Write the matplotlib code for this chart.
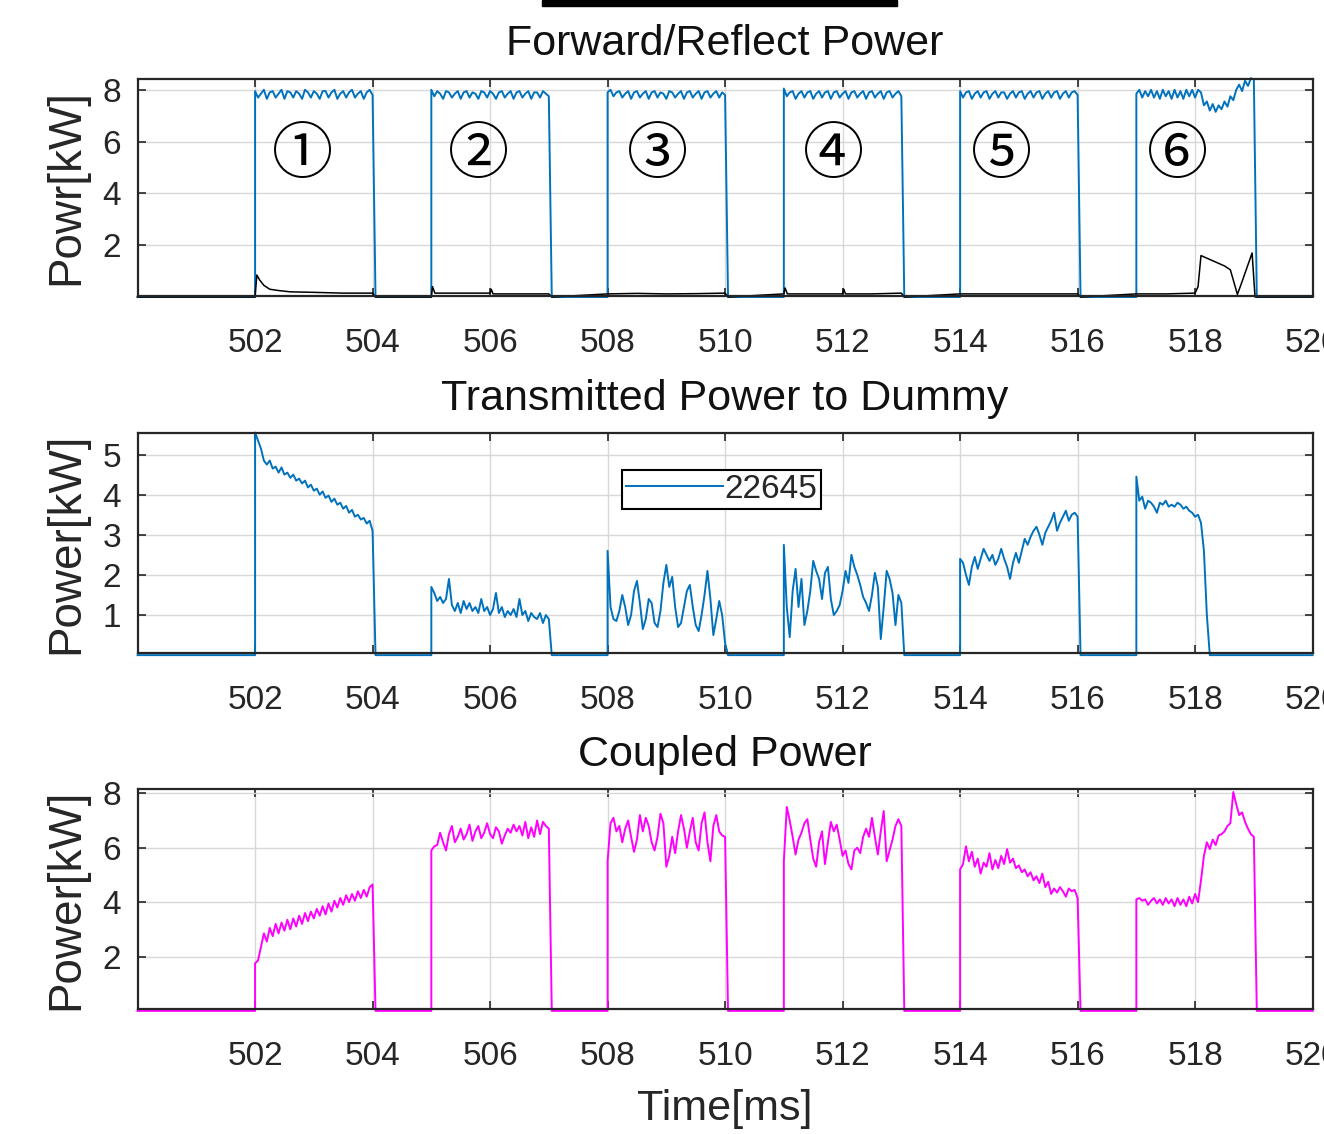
import numpy as np
import matplotlib
matplotlib.use("Agg")
import matplotlib.pyplot as plt
from matplotlib.patches import Rectangle

plt.rcParams['font.family'] = ['Liberation Sans', 'DejaVu Sans']

# pulse timing [ms], samples every 0.05 ms inside each pulse
pulse_starts = [502.0, 505.0, 508.0, 511.0, 514.0, 517.0]
step_ms = 0.05

# forward power [kW]
fwd_p1 = [7.95, 7.70, 7.85, 8.00, 7.65, 7.90, 7.95, 7.70, 7.85, 8.00, 7.65, 7.95, 7.90, 7.70, 7.95,
          7.85, 7.65, 8.00, 7.90, 7.70, 7.95, 7.85, 7.65, 7.95, 7.95, 7.70, 7.90, 8.00, 7.65, 7.85,
          7.95, 7.70, 7.90, 8.00, 7.70, 7.85, 7.95, 7.65, 7.90, 8.00, 7.80]
fwd_p2 = [8.00, 7.75, 7.95, 7.85, 7.65, 7.95, 7.90, 7.70, 7.85, 7.95, 7.65, 7.90, 7.95, 7.70, 7.90,
          7.85, 7.65, 7.95, 7.90, 7.70, 7.95, 7.85, 7.65, 7.90, 7.95, 7.70, 7.85, 7.95, 7.65, 7.90,
          7.95, 7.70, 7.85, 7.95, 7.65, 7.90, 7.90, 7.70, 7.95, 7.85, 7.75]
fwd_p3 = [7.90, 8.00, 7.75, 7.90, 7.95, 7.70, 7.85, 7.95, 7.65, 7.90, 7.95, 7.70, 7.85, 7.95, 7.65,
          7.90, 7.95, 7.70, 7.90, 7.85, 7.65, 7.95, 7.90, 7.70, 7.85, 7.95, 7.65, 7.90, 7.95, 7.70,
          7.85, 7.95, 7.65, 7.90, 7.95, 7.70, 7.85, 7.95, 7.70, 7.90, 7.80]
fwd_p4 = [8.05, 7.75, 7.90, 7.95, 7.65, 7.85, 7.95, 7.70, 7.90, 7.95, 7.65, 7.85, 7.95, 7.70, 7.90,
          7.95, 7.65, 7.90, 7.95, 7.70, 7.85, 7.95, 7.65, 7.90, 7.95, 7.70, 7.85, 7.95, 7.65, 7.90,
          7.95, 7.70, 7.85, 7.95, 7.65, 7.90, 7.95, 7.70, 7.85, 7.95, 7.75]
fwd_p5 = [7.95, 7.70, 7.90, 7.95, 7.65, 7.85, 7.95, 7.70, 7.90, 7.95, 7.65, 7.85, 7.95, 7.70, 7.90,
          7.90, 7.65, 7.85, 7.95, 7.70, 7.90, 7.95, 7.65, 7.85, 7.95, 7.70, 7.90, 7.95, 7.65, 7.85,
          7.95, 7.70, 7.90, 7.95, 7.65, 7.85, 7.95, 7.70, 7.90, 7.95, 7.80]
fwd_p6 = [7.85, 8.00, 7.70, 7.95, 7.75, 8.00, 7.70, 7.95, 7.65, 8.00, 7.75, 7.95, 7.65, 8.00, 7.70,
          7.95, 7.65, 8.00, 7.75, 8.00, 7.70, 8.00, 7.90, 7.40, 7.55, 7.20, 7.45, 7.15, 7.40, 7.25,
          7.55, 7.35, 7.75, 7.60, 8.00, 8.20, 7.95, 8.35, 8.15, 8.45, 8.40]

# reflected power [kW]
refl_t = [500.0, 502.0, 502.03, 502.08, 502.15, 502.25, 502.4, 502.6, 503.0, 503.5, 504.0, 504.05,
          505.0, 505.02, 505.06, 505.5, 506.0, 506.02, 506.05, 506.5, 507.0, 507.05,
          508.0, 508.5, 509.0, 509.5, 510.0, 510.05,
          511.0, 511.02, 511.06, 511.5, 512.0, 512.02, 512.05, 512.5, 513.0, 513.05,
          514.0, 514.5, 515.0, 515.5, 516.0, 516.05,
          517.0, 517.5, 518.0, 518.05, 518.1, 518.3, 518.5, 518.6, 518.72, 518.8, 518.97, 519.02, 520.0]
refl_kw = [0.0, 0.0, 0.85, 0.65, 0.45, 0.30, 0.25, 0.20, 0.18, 0.15, 0.15, 0.0,
           0.0, 0.40, 0.15, 0.15, 0.15, 0.30, 0.12, 0.12, 0.12, 0.0,
           0.12, 0.14, 0.12, 0.13, 0.15, 0.0,
           0.12, 0.35, 0.12, 0.12, 0.12, 0.30, 0.12, 0.12, 0.15, 0.0,
           0.12, 0.12, 0.12, 0.12, 0.12, 0.0,
           0.12, 0.12, 0.15, 0.40, 1.60, 1.40, 1.20, 1.05, 0.10, 0.60, 1.70, 0.0, 0.0]

# power transmitted to dummy load [kW]
dummy_p1 = [5.55, 5.35, 5.15, 4.85, 4.75, 4.85, 4.65, 4.70, 4.55, 4.68, 4.50, 4.55, 4.42, 4.50, 4.35,
            4.40, 4.28, 4.35, 4.18, 4.25, 4.10, 4.15, 4.00, 4.08, 3.92, 3.98, 3.82, 3.90, 3.75, 3.80,
            3.65, 3.72, 3.55, 3.62, 3.45, 3.50, 3.38, 3.42, 3.28, 3.35, 3.10]
dummy_p2 = [1.70, 1.55, 1.35, 1.45, 1.30, 1.40, 1.90, 1.25, 1.10, 1.30, 1.05, 1.35, 1.15, 1.30, 1.10,
            1.20, 1.05, 1.40, 1.10, 1.20, 1.00, 1.15, 1.55, 1.05, 1.20, 0.95, 1.10, 1.00, 1.15, 0.95,
            1.40, 1.00, 1.10, 0.85, 1.05, 0.95, 0.90, 1.05, 0.80, 1.00, 0.90]
dummy_p3 = [2.60, 1.20, 0.90, 0.85, 1.10, 1.50, 1.20, 0.75, 1.00, 1.60, 1.85, 1.30, 0.65, 0.90, 1.40,
            1.30, 0.80, 0.70, 1.10, 1.80, 2.25, 1.70, 1.95, 1.20, 0.70, 0.80, 1.20, 1.60, 1.75, 1.20,
            0.75, 0.60, 1.00, 1.50, 2.10, 1.40, 0.50, 0.90, 1.35, 1.00, 0.30]
dummy_p4 = [2.75, 1.20, 0.45, 1.60, 2.15, 1.20, 1.90, 0.75, 1.10, 1.60, 2.35, 2.10, 1.90, 1.40, 2.05,
            2.20, 1.40, 1.00, 1.10, 1.25, 1.60, 2.10, 1.80, 2.50, 2.20, 2.00, 1.75, 1.45, 1.30, 1.10,
            1.50, 2.05, 1.70, 0.40, 1.20, 2.10, 1.90, 1.55, 0.75, 1.50, 1.30]
dummy_p5 = [2.40, 2.30, 2.00, 1.75, 2.20, 2.45, 2.15, 2.40, 2.65, 2.50, 2.35, 2.50, 2.25, 2.40, 2.65,
            2.40, 2.20, 1.90, 2.30, 2.55, 2.30, 2.60, 2.90, 2.75, 2.95, 3.10, 3.20, 3.00, 2.75, 3.05,
            3.20, 3.35, 3.55, 3.10, 3.30, 3.45, 3.60, 3.35, 3.50, 3.55, 3.45]
dummy_p6 = [4.45, 3.85, 3.95, 3.65, 3.85, 3.80, 3.70, 3.55, 3.80, 3.75, 3.85, 3.70, 3.75, 3.70, 3.80,
            3.75, 3.65, 3.70, 3.60, 3.55, 3.45, 3.50, 3.30, 2.60, 1.00]

# coupled power [kW]
coupled_p1 = [1.75, 1.85, 2.35, 2.85, 2.55, 3.05, 2.75, 3.20, 2.85, 3.25, 2.95, 3.35, 3.00, 3.40, 3.10,
              3.50, 3.20, 3.60, 3.30, 3.65, 3.40, 3.75, 3.50, 3.85, 3.55, 3.95, 3.65, 4.05, 3.80, 4.15,
              3.90, 4.25, 4.00, 4.30, 4.05, 4.40, 4.15, 4.45, 4.20, 4.55, 4.65]
coupled_p2 = [5.90, 6.05, 6.10, 6.55, 6.20, 5.90, 6.50, 6.80, 6.20, 6.40, 6.70, 6.30, 6.50, 6.85, 6.25,
              6.60, 6.80, 6.35, 6.55, 6.90, 6.50, 6.35, 6.75, 6.60, 6.15, 6.45, 6.70, 6.55, 6.85, 6.60,
              6.80, 6.45, 6.95, 6.35, 6.75, 6.40, 7.00, 6.50, 6.95, 6.80, 6.70]
coupled_p3 = [5.50, 6.90, 7.10, 6.60, 6.80, 6.20, 6.70, 7.00, 6.40, 5.85, 6.30, 7.20, 6.60, 7.10, 6.80,
              6.20, 5.90, 6.40, 7.25, 6.90, 5.30, 5.70, 6.40, 5.80, 6.60, 7.20, 6.70, 6.00, 6.60, 7.10,
              6.20, 5.90, 6.90, 7.30, 6.20, 5.50, 6.80, 7.20, 6.60, 6.45, 6.40]
coupled_p4 = [5.50, 7.50, 7.00, 6.40, 5.75, 6.30, 6.55, 6.90, 7.05, 6.30, 5.60, 5.30, 6.20, 6.60, 5.40,
              6.20, 6.95, 6.60, 6.85, 6.30, 5.70, 5.90, 5.40, 5.20, 5.90, 6.00, 5.80, 6.40, 6.70, 6.40,
              7.10, 6.40, 5.75, 6.60, 7.35, 5.50, 5.90, 6.30, 6.80, 7.05, 6.80]
coupled_p5 = [5.20, 5.40, 6.05, 5.50, 5.85, 5.30, 5.60, 5.05, 5.45, 5.30, 5.80, 5.20, 5.55, 5.25, 5.70,
              5.40, 5.95, 5.45, 5.60, 5.25, 5.35, 5.10, 5.20, 4.95, 5.10, 4.80, 4.95, 4.70, 5.05, 4.55,
              4.75, 4.30, 4.50, 4.35, 4.55, 4.40, 4.20, 4.50, 4.40, 4.45, 4.15]
coupled_p6 = [4.10, 4.15, 4.05, 4.10, 3.90, 4.05, 4.15, 3.95, 4.10, 3.90, 4.15, 3.95, 4.10, 3.85, 4.15,
              3.90, 4.10, 3.85, 4.20, 3.95, 4.30, 4.00, 4.80, 5.70, 6.20, 5.95, 6.30, 6.10, 6.45, 6.50,
              6.60, 6.80, 6.90, 8.05, 7.60, 7.20, 7.30, 6.95, 6.70, 6.50, 6.40]

circle_labels = ['①', '②', '③', '④', '⑤', '⑥']
circle_t = [502.8, 505.8, 508.85, 511.85, 514.7, 517.7]
shot_number = '22645'


def pulse_train(blocks):
    t, v = [500.0], [0.0]
    for s, vals in zip(pulse_starts, blocks):
        tt = s + step_ms * np.arange(len(vals))
        t += [s] + list(tt) + [tt[-1] + step_ms]
        v += [0.0] + list(vals) + [0.0]
    t.append(520.0)
    v.append(0.0)
    return np.array(t), np.array(v)


fwd_t, fwd_kw = pulse_train([fwd_p1, fwd_p2, fwd_p3, fwd_p4, fwd_p5, fwd_p6])
dummy_t, dummy_kw = pulse_train([dummy_p1, dummy_p2, dummy_p3, dummy_p4, dummy_p5, dummy_p6])
coupled_t, coupled_kw = pulse_train([coupled_p1, coupled_p2, coupled_p3, coupled_p4, coupled_p5, coupled_p6])

blue = '#0072BD'
magenta = '#FF00FF'
dark = '#262626'

fig = plt.figure(figsize=(13.24, 11.34), dpi=100)
left, width = 0.1039, 0.8875
ax1 = fig.add_axes([left, 0.7390, width, 0.1914])
ax2 = fig.add_axes([left, 0.4244, width, 0.1935])
ax3 = fig.add_axes([left, 0.1100, width, 0.1940])


def style(ax, ylim, yticks, title, ylabel):
    ax.set_xlim(500, 520)
    ax.set_ylim(*ylim)
    ax.set_xticks(np.arange(502, 521, 2))
    ax.set_yticks(yticks)
    ax.grid(True, color='#d8d8d8', linewidth=1.0)
    ax.set_axisbelow(True)
    ax.tick_params(direction='in', length=6, width=1.2, top=True, right=True,
                   labelsize=24, colors=dark, pad=12)
    ax.tick_params(axis='x', pad=23)
    for sp in ax.spines.values():
        sp.set_color(dark)
        sp.set_linewidth(1.6)
    ax.set_title(title, fontsize=31, color='#111111', pad=17)
    ax.set_ylabel(ylabel, fontsize=33, color=dark, labelpad=10)


style(ax1, (0.04, 8.42), [2, 4, 6, 8], 'Forward/Reflect Power', 'Powr[kW]')
style(ax2, (0.06, 5.53), [1, 2, 3, 4, 5], 'Transmitted Power to Dummy', 'Power[kW]')
style(ax3, (0.06, 8.15), [2, 4, 6, 8], 'Coupled Power', 'Power[kW]')

ax1.plot(fwd_t, fwd_kw, color=blue, linewidth=1.4, clip_on=False)
ax1.plot(refl_t, refl_kw, color='black', linewidth=1.1, clip_on=False)
for lab, t in zip(circle_labels, circle_t):
    ax1.text(t, 5.45, lab, fontsize=44, ha='center', va='center',
             family=['Noto Sans CJK JP', 'DejaVu Sans'], color='black')

ax2.plot(dummy_t, dummy_kw, color=blue, linewidth=1.4, clip_on=False, label=shot_number)
leg = ax2.legend(loc='center', bbox_to_anchor=(0.497, 0.745), fontsize=24, fancybox=False,
                 framealpha=1, edgecolor='black', handlelength=2.9, handletextpad=0.05,
                 borderpad=0.12, borderaxespad=0)
leg.get_frame().set_linewidth(1.5)
for txt in leg.get_texts():
    txt.set_color(dark)

ax3.plot(coupled_t, coupled_kw, color=magenta, linewidth=1.4, clip_on=False)
ax3.set_xlabel('Time[ms]', fontsize=31, color=dark, labelpad=12)

fig.patches.append(Rectangle((542 / 1324, 1 - 6 / 1134), 355 / 1324, 6 / 1134,
                             transform=fig.transFigure, color='black'))

fig.savefig('out.png', dpi=100)
